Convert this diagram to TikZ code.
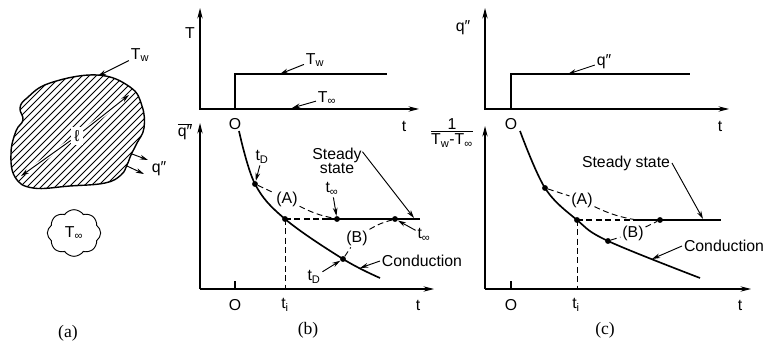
\documentclass[tikz,border=0pt]{standalone}
\usepackage{fontspec}
\setmainfont{Liberation Sans}
\newfontfamily\capfont{Liberation Serif}
\usetikzlibrary{arrows.meta,shapes.symbols}

\tikzset{
  axisline/.style={line width=0.9pt, -{Stealth[length=9pt,width=4.5pt]}},
  mainline/.style={line width=1.4pt},
  pointer/.style={line width=0.8pt, -{Stealth[length=7pt,width=4pt]}},
  dashline/.style={line width=0.8pt, dash pattern=on 5pt off 3pt},
  hatchline/.style={line width=0.7pt},
  curvedot/.style={circle, fill, inner sep=0pt, minimum size=5pt},
  lbl/.style={font=\fontsize{13.5}{14}\selectfont, inner sep=1.5pt},
  panel/.style={font=\capfont\fontsize{15}{16}\selectfont},
}
\newcommand{\sub}[1]{\textsubscript{#1}}

\begin{document}
\begin{tikzpicture}[x=0.03cm, y=-0.03cm]
        \useasboundingbox (0,0) rectangle (769,348);

        % ==========================================
        % (a) Cuerpo
        % ==========================================
        \begin{scope}
          \clip plot[smooth cycle, tension=0.7] coordinates {(20,108) (27,98) (50,83) (97,75) (130,87) (142,106) (144,128) (137,143) (131,155) (127,165) (121,175) (105,183) (70,186) (33,188) (15,177) (11,153) (16,131) (23,120)};
          \foreach \k in {-84,-77,...,105}
            \draw[hatchline] (\k,200) -- ++(140,-140);
        \end{scope}
        \draw[line width=1.2pt] plot[smooth cycle, tension=0.7] coordinates {(20,108) (27,98) (50,83) (97,75) (130,87) (142,106) (144,128) (137,143) (131,155) (127,165) (121,175) (105,183) (70,186) (33,188) (15,177) (11,153) (16,131) (23,120)};

        \node[lbl, fill=white, inner sep=3pt] (a-len) at (77,136) {ℓ};
        \coordinate (a-len1) at (129,95);
        \coordinate (a-len2) at (21,176);
        \draw[pointer, preaction={draw=white, line width=3pt}] (a-len) -- (a-len1);
        \draw[pointer, preaction={draw=white, line width=3pt}] (a-len) -- (a-len2);

        \node[lbl] (a-Tw) at (140,55) {T\sub{w}};
        \coordinate (a-top) at (98,76);
        \draw[pointer] (a-Tw) -- (a-top);

        \node[lbl] (a-q) at (159,169) {q″};
        \coordinate (a-q1) at (132,154);
        \coordinate (a-q2) at (127,166);
        \draw[pointer] (a-q1) -- (148,160);
        \draw[pointer] (a-q2) -- (144,174);

        \node[lbl, cloud, draw, line width=0.8pt, cloud puffs=8, cloud puff arc=110, aspect=1.3, minimum width=1.6cm, minimum height=1.4cm] (a-cloud) at (74,233) {T\sub{∞}};

        \node[panel] (a-cap) at (68,333) {(a)};

        % ==========================================
        % (b) Temperatura de pared fija
        % ==========================================
        \draw[axisline] (200,110) -- (200,8);
        \draw[axisline] (200,109) -- (419,109);
        \node[lbl] (b-T) at (190,33) {T};
        \node[lbl] (b-O1) at (235,124) {O};
        \node[lbl] (b-t1) at (404,126) {t};
        \draw[mainline] (235,109) -- (235,74) -- (387,74);
        \node[lbl] (b-Tw) at (315,60) {T\sub{w}};
        \coordinate (b-Tw-tip) at (280,74);
        \draw[pointer] (b-Tw) -- (b-Tw-tip);
        \node[lbl] (b-Tinf) at (327,98) {T\sub{∞}};
        \coordinate (b-Tinf-tip) at (292,108);
        \draw[pointer] (b-Tinf) -- (b-Tinf-tip);

        % Eje inferior
        \draw[axisline] (200,289) -- (200,123);
        \draw[axisline] (200,289) -- (434,289);
        \draw[line width=0.9pt] (235,289) -- (235,281);
        \node[lbl] (b-q) at (185,132) {$\overline{\mbox{q″}}$};
        \node[lbl] (b-O2) at (235,305) {O};
        \node[lbl] (b-ti) at (285,305) {t\sub{i}};
        \node[lbl] (b-t2) at (418,305) {t};

        % Conduccion y estado estacionario
        \draw[mainline] plot[smooth, tension=0.6] coordinates {(239,131) (255,184) (285,219) (343,259) (380,278)};
        \draw[dashline, line width=1.3pt] (285,219) -- (327,219);
        \draw[mainline] (327,219) -- (420,219);
        \draw[dashline] (285,219) -- (285,289);
        \node[curvedot] (b-d1) at (255,184) {};
        \node[curvedot] (b-di) at (285,219) {};
        \node[curvedot] (b-d2) at (343,259) {};
        \node[curvedot] (b-s1) at (337,219) {};
        \node[curvedot] (b-s2) at (395,219) {};

        \node[lbl] (b-A) at (287,199) {(A)};
        \draw[dashline] (b-d1) -- (b-A);
        \draw[dashline] (b-A) to[bend right=8] (b-s1);
        \node[lbl] (b-B) at (357,238) {(B)};
        \draw[dashline] (b-d2) -- (b-B);
        \draw[dashline] (b-B) to[bend left=8] (b-s2);

        \node[lbl] (b-tD1) at (262,157) {t\sub{D}};
        \draw[pointer] (b-tD1) -- (b-d1);
        \node[lbl, align=center, inner sep=0.5pt] (b-ss) at (337,161) {Steady\\[-2pt]state};
        \coordinate (b-ss-tip) at (414,218);
        \draw[pointer] (b-ss.20) -- (b-ss-tip);
        \node[lbl] (b-tinf1) at (332,189) {t\sub{∞}};
        \draw[pointer] (b-tinf1) -- (b-s1);
        \node[lbl] (b-tinf2) at (424,235) {t\sub{∞}};
        \draw[pointer] (b-tinf2) -- (b-s2);
        \node[lbl] (b-tD2) at (314,277) {t\sub{D}};
        \draw[pointer] (b-tD2) -- (b-d2);
        \node[lbl] (b-cond) at (422,261) {Conduction};
        \coordinate (b-cond-tip) at (360,268);
        \draw[pointer] (b-cond.west) -- (b-cond-tip);

        \node[panel] (b-cap) at (308,330) {(b)};

        % ==========================================
        % (c) Flujo de calor fijo
        % ==========================================
        \draw[axisline] (485,110) -- (485,8);
        \draw[axisline] (485,109) -- (729,109);
        \node[lbl] (c-q1) at (463,28) {q″};
        \node[lbl] (c-O1) at (511,124) {O};
        \node[lbl] (c-t1) at (720,126) {t};
        \draw[mainline] (511,109) -- (511,74) -- (690,74);
        \node[lbl] (c-q) at (604,62) {q″};
        \coordinate (c-q-tip) at (568,74);
        \draw[pointer] (c-q) -- (c-q-tip);

        % Eje inferior
        \draw[axisline] (485,289) -- (485,126);
        \draw[axisline] (485,289) -- (751,289);
        \draw[line width=0.9pt] (511,289) -- (511,281);
        \node[lbl, inner sep=0pt] (c-ylab) at (452,134) {\begin{tabular}{@{}c@{}}1\\[-3pt]\hline\rule{0pt}{11pt}T\sub{w}-T\sub{∞}\end{tabular}};
        \node[lbl] (c-O2) at (511,305) {O};
        \node[lbl] (c-ti) at (576,305) {t\sub{i}};
        \node[lbl] (c-t2) at (740,305) {t};

        % Conduccion y estado estacionario
        \draw[mainline] plot[smooth, tension=0.6] coordinates {(520,131) (545,188) (577,220) (608,241) (700,278)};
        \draw[dashline, line width=1.3pt] (577,220) -- (637,220);
        \draw[mainline] (637,220) -- (721,220);
        \draw[dashline] (577,220) -- (577,289);
        \coordinate (c-join) at (637,220);
        \node[curvedot] (c-d1) at (545,188) {};
        \node[curvedot] (c-di) at (577,220) {};
        \node[curvedot] (c-d2) at (608,241) {};
        \node[curvedot] (c-s) at (660,220) {};

        \node[lbl] (c-A) at (582,200) {(A)};
        \draw[dashline] (c-d1) -- (c-A);
        \draw[dashline] (c-A) to[bend right=8] (c-join);
        \node[lbl] (c-B) at (633,233) {(B)};
        \draw[dashline] (c-d2) -- (c-B);
        \draw[dashline] (c-B) -- (c-s);

        \node[lbl] (c-ss) at (626,163) {Steady state};
        \coordinate (c-ss-tip) at (703,219);
        \draw[pointer] (c-ss.east) -- (c-ss-tip);
        \node[lbl] (c-cond) at (724,246) {Conduction};
        \coordinate (c-cond-tip) at (652,259);
        \draw[pointer] (c-cond.west) -- (c-cond-tip);

        \node[panel] (c-cap) at (605,330) {(c)};

\end{tikzpicture}
\end{document}
